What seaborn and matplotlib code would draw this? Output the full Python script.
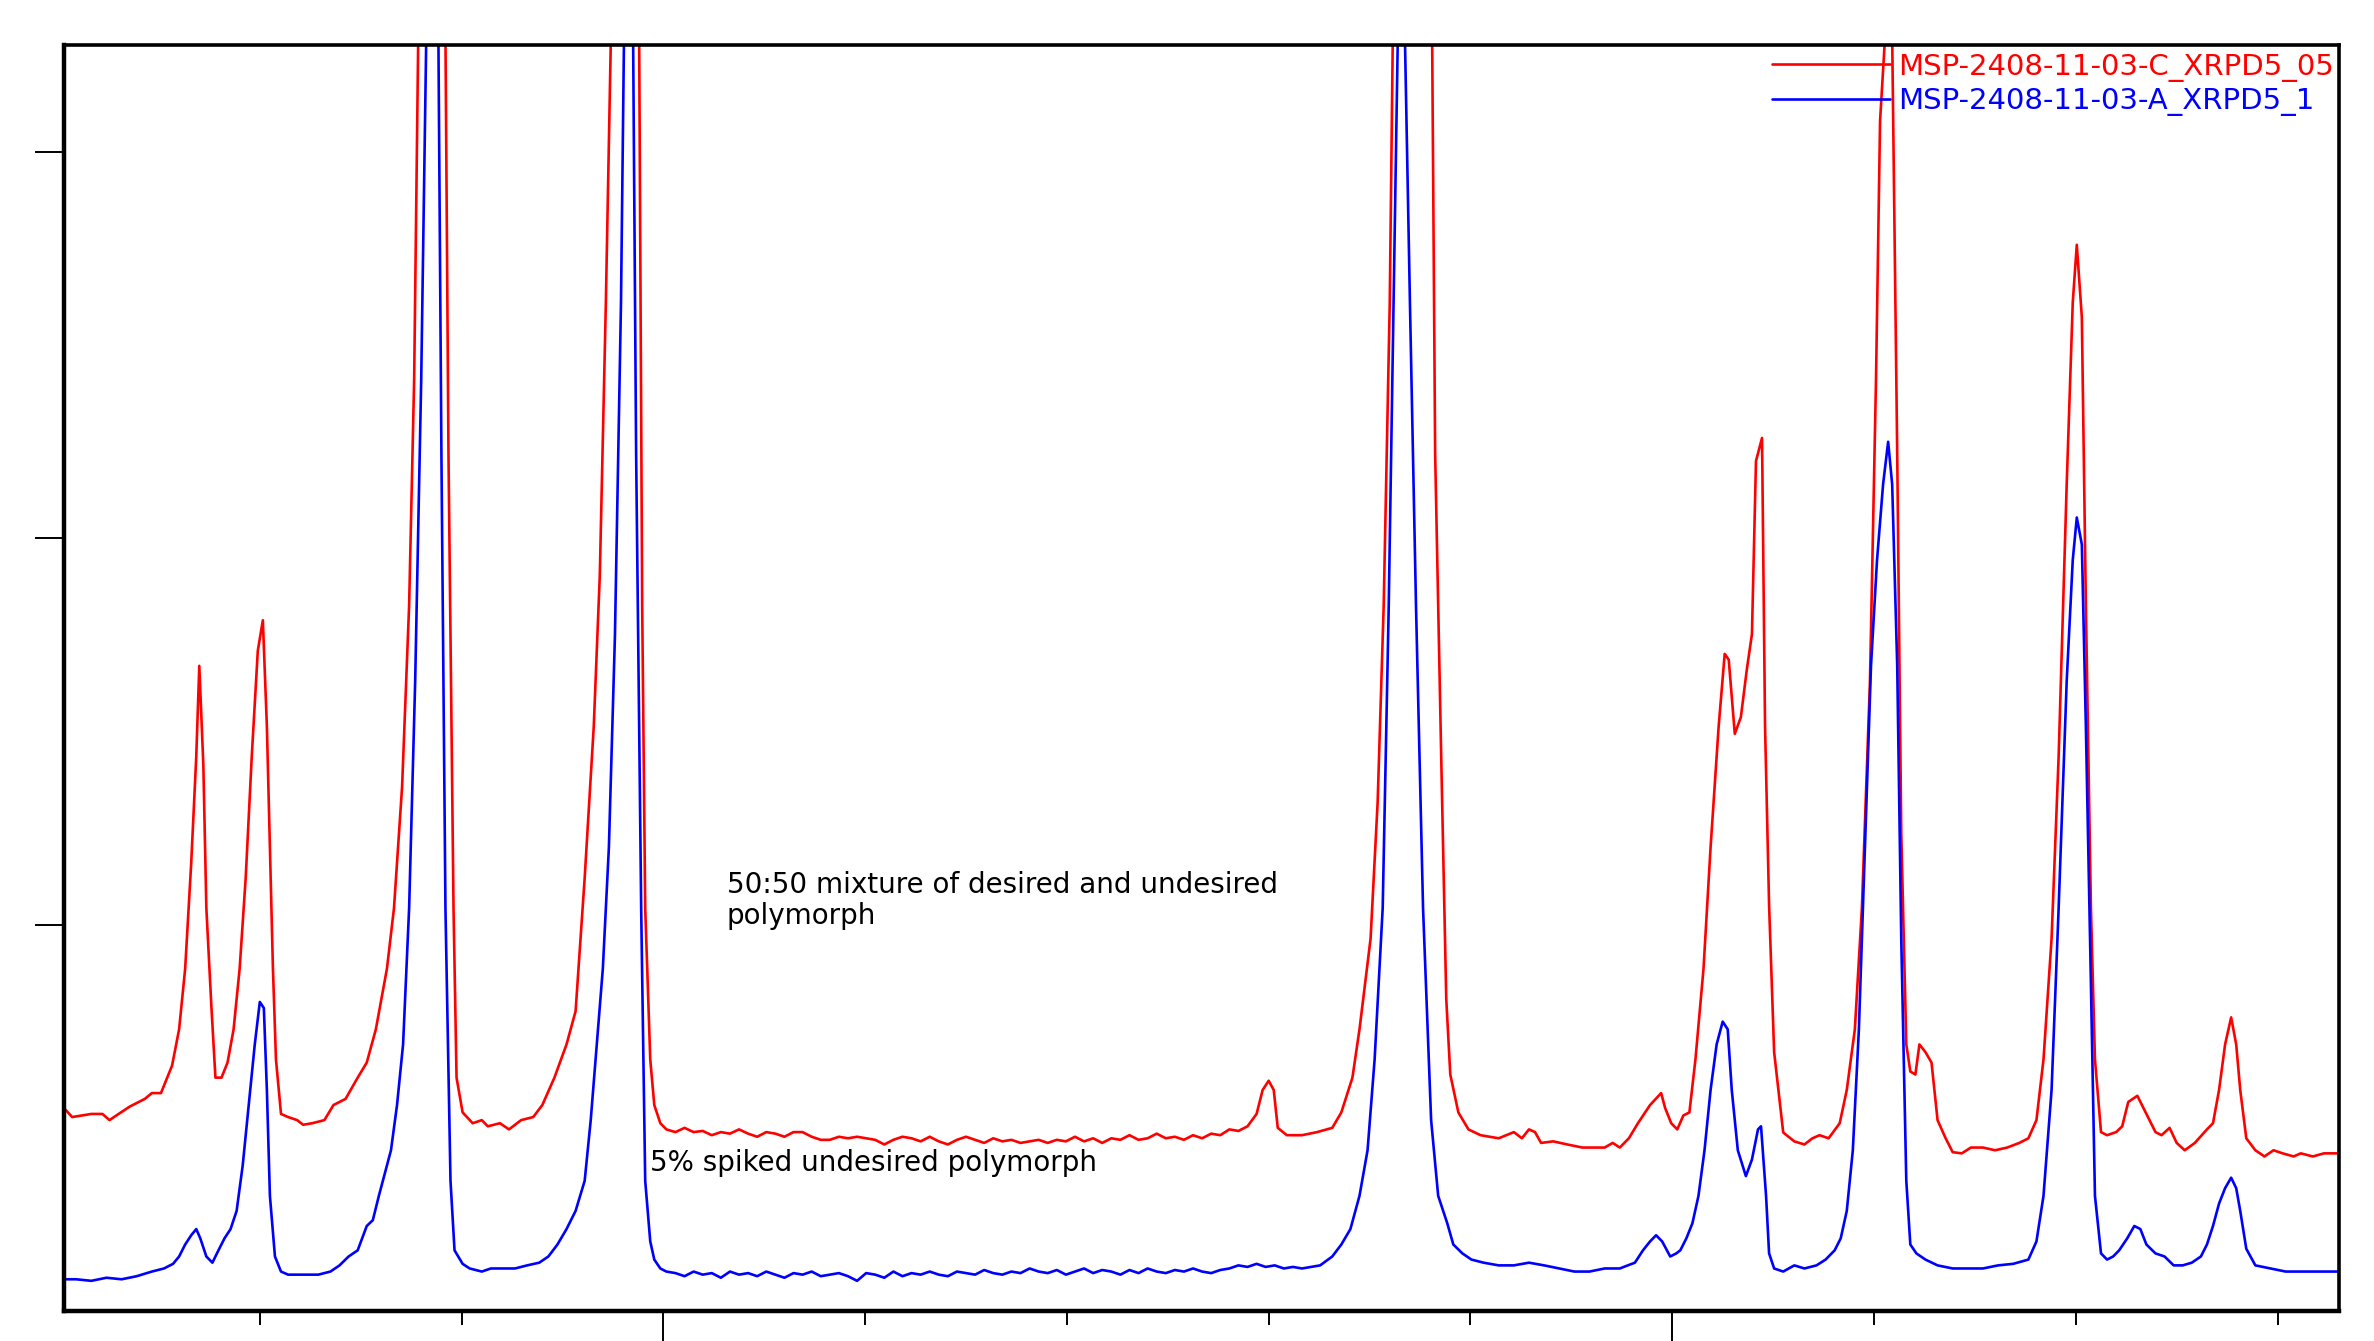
import numpy as np
import pandas as pd
import matplotlib
matplotlib.use("Agg")
import matplotlib.pyplot as plt
from matplotlib.ticker import FixedLocator
import seaborn as sns

sns.set_style("ticks")
plt.rcParams['font.family'] = ['DejaVu Sans']

# XRPD patterns (2-theta in degrees, intensity in counts)
red_label = "MSP-2408-11-03-C_XRPD5_05"
blue_label = "MSP-2408-11-03-A_XRPD5_1"

red_2theta = [
    4.06, 4.14, 4.33, 4.44, 4.51, 4.60, 4.71, 4.86, 4.93, 5.02, 5.13, 5.20, 5.26, 5.32, 5.37, 5.40,
    5.44, 5.47, 5.52, 5.56, 5.62, 5.68, 5.74, 5.80, 5.86, 5.92, 5.98, 6.03, 6.07, 6.10, 6.13, 6.16,
    6.21, 6.28, 6.37, 6.43, 6.52, 6.64, 6.73, 6.85, 6.97, 7.06, 7.15, 7.26, 7.33, 7.41, 7.48, 7.53,
    7.57, 7.63, 7.71, 7.78, 7.84, 7.87, 7.92, 7.95, 8.01, 8.11, 8.20, 8.26, 8.38, 8.47, 8.59, 8.71,
    8.80, 8.92, 9.04, 9.13, 9.22, 9.31, 9.37, 9.43, 9.48, 9.55, 9.61, 9.69, 9.76, 9.79, 9.82, 9.87,
    9.91, 9.97, 10.03,
    10.12, 10.21, 10.30, 10.39, 10.48, 10.57, 10.66, 10.75, 10.84, 10.93, 11.02, 11.11, 11.20, 11.29,
    11.38, 11.47, 11.56, 11.65, 11.74, 11.83, 11.92, 12.01, 12.10, 12.19, 12.28, 12.37, 12.46, 12.55,
    12.64, 12.73, 12.82, 12.91, 13.00, 13.09, 13.18, 13.27, 13.36, 13.45, 13.54, 13.63, 13.72, 13.81,
    13.90, 13.99, 14.08, 14.17, 14.26, 14.35, 14.44, 14.53, 14.62, 14.71, 14.80, 14.89, 14.98, 15.07,
    15.16, 15.25, 15.34, 15.43, 15.52, 15.61, 15.70, 15.79,
    15.88, 15.94, 16.00, 16.05, 16.09, 16.18, 16.33, 16.48, 16.63, 16.72, 16.83, 16.90, 17.01, 17.08,
    17.14, 17.20, 17.23, 17.31, 17.41, 17.53, 17.62, 17.65, 17.71, 17.76, 17.80, 17.88, 17.98, 18.10,
    18.28, 18.43, 18.51, 18.58, 18.64, 18.70, 18.82, 18.96, 19.11, 19.33, 19.41, 19.48, 19.57, 19.66,
    19.78, 19.89, 19.93, 19.99, 20.05, 20.11, 20.17, 20.23, 20.31, 20.38, 20.46, 20.52, 20.56, 20.62,
    20.68, 20.74, 20.79, 20.83, 20.89, 20.92, 20.96, 21.01, 21.10, 21.21, 21.31, 21.39, 21.46, 21.55,
    21.66, 21.73, 21.81, 21.88, 21.96, 22.02, 22.06, 22.11, 22.14, 22.18, 22.23, 22.27, 22.32, 22.36,
    22.41, 22.45, 22.51, 22.57, 22.63, 22.71, 22.78, 22.87, 22.96, 23.08, 23.20, 23.32, 23.44, 23.53,
    23.61, 23.68, 23.76, 23.83, 23.91, 23.97, 24.01, 24.06, 24.10, 24.15, 24.19, 24.25, 24.31, 24.40,
    24.46, 24.52, 24.61, 24.70, 24.79, 24.85, 24.93, 25.00, 25.08, 25.18, 25.30, 25.36, 25.42, 25.48,
    25.54, 25.59, 25.63, 25.69, 25.78, 25.87, 25.96, 26.05, 26.16, 26.23, 26.35, 26.46, 26.61,
]
red_counts = [
    525, 502, 510, 510, 494, 510, 529, 549, 564, 564, 635, 729, 886, 1160, 1435, 1670,
    1415, 1043, 788, 604, 604, 643, 729, 886, 1121, 1435, 1709, 1788, 1513, 1200, 886, 651,
    510, 502, 494, 482, 486, 494, 533, 549, 604, 643, 729, 886, 1043, 1356, 1827, 2415,
    3300, 4500, 6000, 4500, 3300, 2219, 1043, 604, 514, 486, 494, 478, 486, 470, 494, 502,
    533, 604, 690, 776, 1121, 1513, 1905, 2611, 3300, 4500, 6000, 4500, 3300, 1827, 1043, 651,
    533, 486, 470,
    463, 474, 463, 466, 455, 463, 459, 470, 459, 451, 463, 459, 451, 463,
    463, 451, 443, 443, 451, 447, 451, 447, 443, 431, 443, 451, 447, 439,
    451, 439, 431, 443, 451, 443, 435, 447, 439, 443, 435, 439, 443, 435,
    443, 439, 451, 439, 447, 435, 447, 443, 455, 443, 447, 459, 447, 451,
    443, 455, 447, 459, 455, 470, 466, 478,
    510, 572, 596, 572, 474, 455, 455, 463, 474, 514, 604, 729, 964, 1317,
    1827, 2611, 3300, 5000, 7000, 5000, 3300, 2219, 1435, 808, 612, 514, 470, 455,
    447, 463, 447, 470, 463, 435, 439, 431, 423, 423, 435, 423, 447, 486,
    533, 564, 525, 486, 470, 506, 514, 651, 886, 1200, 1513, 1701, 1686, 1494,
    1537, 1662, 1752, 2200, 2260, 1513, 1050, 670, 462, 439, 431, 447, 455, 447,
    486, 572, 729, 1043, 1631, 2415, 3081, 3300, 3700, 3300, 2219, 1239, 690, 620,
    612, 690, 670, 643, 494, 447, 411, 408, 423, 423, 416, 423, 435, 447,
    494, 651, 964, 1435, 2140, 2611, 2760, 2572, 1827, 1043, 651, 463, 455, 463,
    478, 541, 557, 510, 463, 455, 474, 435, 416, 435, 470, 486, 572, 690,
    760, 690, 572, 447, 416, 400, 416, 408, 400, 408, 400, 408, 408,
]

blue_2theta = [
    4.06, 4.18, 4.33, 4.48, 4.63, 4.78, 4.93, 5.05, 5.14, 5.20, 5.26, 5.32, 5.37, 5.41, 5.47, 5.53,
    5.59, 5.65, 5.71, 5.77, 5.83, 5.89, 5.95, 6.00, 6.04, 6.07, 6.10, 6.15, 6.21, 6.28, 6.43, 6.58,
    6.70, 6.79, 6.88, 6.97, 7.06, 7.12, 7.18, 7.24, 7.30, 7.36, 7.42, 7.48, 7.54, 7.60, 7.65, 7.71,
    7.77, 7.80, 7.84, 7.89, 7.93, 8.01, 8.08, 8.20, 8.29, 8.41, 8.53, 8.65, 8.77, 8.86, 8.95, 9.04,
    9.13, 9.22, 9.28, 9.34, 9.40, 9.46, 9.52, 9.58, 9.61, 9.64, 9.70, 9.73, 9.78, 9.82, 9.87, 9.91,
    9.97, 10.03,
    10.12, 10.21, 10.30, 10.39, 10.48, 10.57, 10.66, 10.75, 10.84, 10.93, 11.02, 11.11, 11.20, 11.29,
    11.38, 11.47, 11.56, 11.65, 11.74, 11.83, 11.92, 12.01, 12.10, 12.19, 12.28, 12.37, 12.46, 12.55,
    12.64, 12.73, 12.82, 12.91, 13.00, 13.09, 13.18, 13.27, 13.36, 13.45, 13.54, 13.63, 13.72, 13.81,
    13.90, 13.99, 14.08, 14.17, 14.26, 14.35, 14.44, 14.53, 14.62, 14.71, 14.80, 14.89, 14.98, 15.07,
    15.16, 15.25, 15.34, 15.43, 15.52, 15.61, 15.70, 15.79, 15.88, 15.97, 16.06, 16.15, 16.24, 16.33,
    16.42, 16.51,
    16.63, 16.72, 16.81, 16.90, 16.98, 17.05, 17.13, 17.19, 17.25, 17.28, 17.32, 17.35, 17.40, 17.46,
    17.53, 17.61, 17.68, 17.77, 17.83, 17.92, 18.01, 18.13, 18.28, 18.43, 18.58, 18.73, 18.88, 19.03,
    19.18, 19.33, 19.48, 19.63, 19.71, 19.78, 19.84, 19.90, 19.98, 20.04, 20.08, 20.14, 20.20, 20.26,
    20.32, 20.38, 20.44, 20.50, 20.55, 20.59, 20.65, 20.73, 20.79, 20.85, 20.88, 20.93, 20.96, 21.01,
    21.10, 21.21, 21.31, 21.43, 21.52, 21.61, 21.67, 21.73, 21.79, 21.85, 21.91, 21.97, 22.03, 22.09,
    22.14, 22.18, 22.23, 22.27, 22.32, 22.36, 22.42, 22.51, 22.63, 22.78, 22.93, 23.08, 23.23, 23.38,
    23.53, 23.61, 23.68, 23.76, 23.83, 23.91, 23.97, 24.01, 24.06, 24.10, 24.15, 24.19, 24.25, 24.31,
    24.37, 24.43, 24.51, 24.58, 24.64, 24.70, 24.79, 24.88, 24.97, 25.06, 25.15, 25.24, 25.30, 25.36,
    25.42, 25.48, 25.54, 25.59, 25.63, 25.69, 25.78, 25.93, 26.08, 26.23, 26.38, 26.61,
]
blue_counts = [
    82, 82, 78, 86, 82, 90, 102, 110, 122, 141, 172, 196, 212, 188, 141, 125,
    157, 188, 212, 259, 376, 533, 690, 800, 784, 572, 298, 141, 102, 94, 94, 94,
    102, 118, 141, 157, 220, 235, 298, 357, 416, 533, 690, 1043, 1631, 2415, 3300, 9000,
    3300, 2219, 1043, 337, 157, 122, 110, 102, 110, 110, 110, 118, 125, 141, 172, 212,
    259, 337, 494, 690, 886, 1200, 1748, 2611, 3300, 9000, 3300, 2219, 1043, 337, 180, 133,
    110, 102,
    98, 90, 102, 94, 98, 86, 102, 94, 98, 90, 102, 94, 86, 98,
    94, 102, 90, 94, 98, 90, 78, 98, 94, 86, 102, 90, 98, 94,
    102, 94, 90, 102, 98, 94, 106, 98, 94, 102, 98, 110, 102, 98,
    106, 94, 102, 110, 98, 106, 102, 94, 106, 98, 110, 102, 98, 106,
    102, 110, 102, 98, 106, 110, 118, 114, 122, 114, 118, 110, 114, 110,
    114, 118,
    141, 172, 212, 298, 416, 651, 1043, 1827, 2807, 3300, 9000, 3300, 2611, 1827,
    1043, 494, 298, 227, 172, 149, 133, 125, 118, 118, 125, 118, 110, 102,
    102, 110, 110, 125, 157, 180, 196, 180, 141, 149, 157, 188, 227, 298,
    416, 572, 690, 749, 729, 572, 416, 349, 392, 470, 478, 298, 149, 110,
    102, 118, 110, 118, 133, 157, 188, 259, 416, 729, 1200, 1670, 1944, 2140,
    2250, 2140, 1670, 964, 337, 172, 149, 133, 118, 110, 110, 110, 118, 122,
    133, 180, 298, 572, 1043, 1631, 1944, 2054, 1984, 1513, 847, 298, 149, 133,
    141, 157, 188, 220, 212, 172, 149, 141, 118, 118, 125, 141, 172, 220,
    278, 318, 345, 318, 259, 161, 118, 110, 102, 102, 102, 102,
]

note_mix = "50:50 mixture of desired and undesired\npolymorph"
note_spiked = "5% spiked undesired polymorph"

red_df = pd.DataFrame({"two_theta": red_2theta, "counts": red_counts})
blue_df = pd.DataFrame({"two_theta": blue_2theta, "counts": blue_counts})

fig, ax = plt.subplots(figsize=(23.74, 13.41), dpi=100)
fig.subplots_adjust(left=0.027, right=0.9853, bottom=0.0224, top=0.9664)

sns.lineplot(data=red_df, x="two_theta", y="counts", color="#ff0000", linewidth=1.9,
             estimator=None, sort=False, ax=ax, label=red_label)
sns.lineplot(data=blue_df, x="two_theta", y="counts", color="#0000ff", linewidth=1.9,
             estimator=None, sort=False, ax=ax, label=blue_label)

ax.set_xlim(4.06, 26.61)
ax.set_ylim(0, 3277)
ax.set_xlabel("")
ax.set_ylabel("")

ax.xaxis.set_major_locator(FixedLocator([10, 20]))
ax.xaxis.set_minor_locator(FixedLocator([6, 8, 12, 14, 16, 18, 22, 24, 26]))
ax.yaxis.set_major_locator(FixedLocator([1000, 2000, 3000]))
ax.yaxis.set_minor_locator(FixedLocator([]))
ax.tick_params(axis="x", which="major", direction="out", length=22, width=1.4,
               labelbottom=False, color="black")
ax.tick_params(axis="x", which="minor", direction="out", length=10, width=1.4, color="black")
ax.tick_params(axis="y", which="major", direction="out", length=21, width=1.4,
               labelleft=False, color="black")

for side in ["left", "bottom"]:
    ax.spines[side].set_linewidth(3.2)
    ax.spines[side].set_color("black")
for side in ["top", "right"]:
    ax.spines[side].set_linewidth(2.6)
    ax.spines[side].set_color("black")

ax.text(10.63, 1140, note_mix, fontsize=20, ha="left", va="top", color="black",
        linespacing=1.15)
ax.text(9.865, 384, note_spiked, fontsize=20, ha="left", va="center", color="black")

leg = ax.legend(loc="upper right", bbox_to_anchor=(0.9975, 0.994), frameon=False,
                fontsize=21, handlelength=4.05, handletextpad=0.25, labelspacing=0.2,
                borderaxespad=0, borderpad=0, labelcolor="linecolor")
for line in leg.get_lines():
    line.set_linewidth(1.9)

plt.savefig("out.png", dpi=100)
